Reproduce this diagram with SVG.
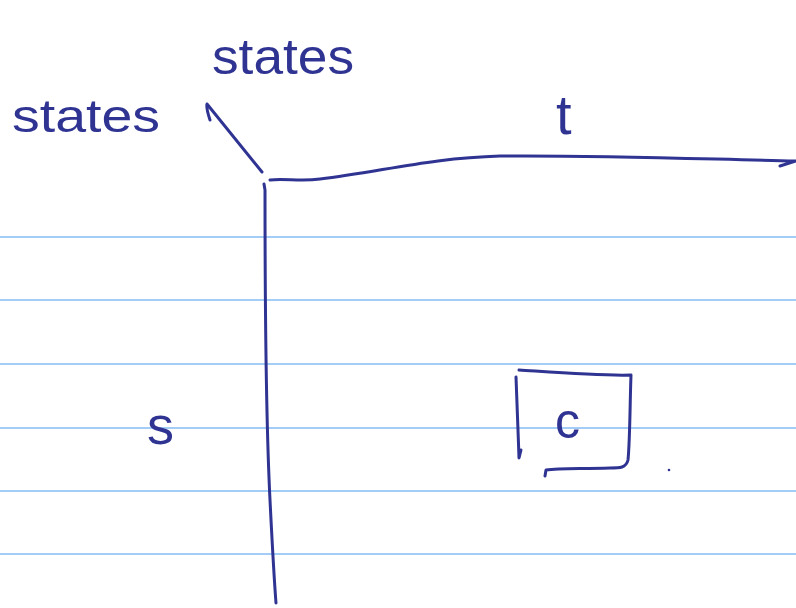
<svg xmlns="http://www.w3.org/2000/svg" width="796" height="608" viewBox="0 0 796 608">
<style>
.rule{stroke:#a3cdf7;stroke-width:2;fill:none}
.ink{stroke:#2f3392;stroke-width:3;fill:none;stroke-linecap:round;stroke-linejoin:round}
.txt{fill:#2f3392;font-family:"Liberation Sans",Arial,sans-serif}
</style>
<rect width="796" height="608" fill="#ffffff"/>
<g id="rules">
<line class="rule" x1="0" y1="237" x2="796" y2="237"/>
<line class="rule" x1="0" y1="300" x2="796" y2="300"/>
<line class="rule" x1="0" y1="364" x2="796" y2="364"/>
<line class="rule" x1="0" y1="428" x2="796" y2="428"/>
<line class="rule" x1="0" y1="491" x2="796" y2="491"/>
<line class="rule" x1="0" y1="554" x2="796" y2="554"/>
</g>
<g id="connectors">
<path class="ink" d="M210,120 C208,114 206,108 207,104 L262,172"/>
<path class="ink" d="M264,184 L265,190 C265,300 266,420 270,500 C273,560 275,590 276,603"/>
<path class="ink" d="M270,180 C285,178 300,182 320,179 C380,172 430,158 500,156 C600,155 700,159 796,161 L780,166"/>
</g>
<g id="label-states-left"><text class="txt" x="12" y="132" font-size="46" textLength="148" lengthAdjust="spacingAndGlyphs">states</text></g>
<g id="label-states-top"><text class="txt" x="212" y="74" font-size="50" textLength="142" lengthAdjust="spacingAndGlyphs">states</text></g>
<g id="label-t"><text class="txt" x="556" y="134" font-size="56">t</text></g>
<g id="label-s"><text class="txt" x="147" y="444" font-size="54">s</text></g>
<g id="node-c">
<path class="ink" d="M519,370 C550,372 600,376 631,375 C630,400 630,440 628,460 C626,468 620,468 610,468 C580,469 560,468 546,470 L545,476"/>
<path class="ink" d="M516,377 C517,400 518,430 519,458 L521,450"/>
<text class="txt" x="555" y="438" font-size="50">c</text>
</g>
<circle cx="669" cy="470" r="1.3" fill="#2f3392"/>
</svg>
